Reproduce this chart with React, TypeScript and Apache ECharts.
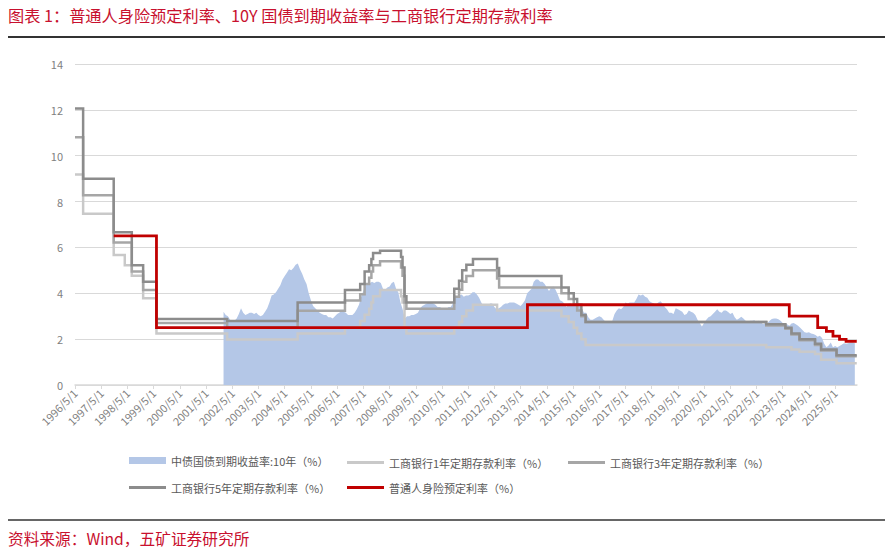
import React, { useEffect, useRef } from "react";
import * as echarts from "echarts";

const FONT = '"Noto Sans CJK SC", "Noto Sans", sans-serif';

const TITLE = "图表 1：普通人身险预定利率、10Y 国债到期收益率与工商银行定期存款利率";
const SOURCE = "资料来源：Wind，五矿证券研究所";

const SERIES_NAMES = [
  "中债国债到期收益率:10年（%）",
  "工商银行1年定期存款利率（%）",
  "工商银行3年定期存款利率（%）",
  "工商银行5年定期存款利率（%）",
  "普通人身险预定利率（%）",
];

const TICK_LABELS = [
  "1996/5/1", "1997/5/1", "1998/5/1", "1999/5/1", "2000/5/1", "2001/5/1",
  "2002/5/1", "2003/5/1", "2004/5/1", "2005/5/1", "2006/5/1", "2007/5/1",
  "2008/5/1", "2009/5/1", "2010/5/1", "2011/5/1", "2012/5/1", "2013/5/1",
  "2014/5/1", "2015/5/1", "2016/5/1", "2017/5/1", "2018/5/1", "2019/5/1",
  "2020/5/1", "2021/5/1", "2022/5/1", "2023/5/1", "2024/5/1", "2025/5/1",
];
const Y_TICKS = [0, 2, 4, 6, 8, 10, 12, 14];
const AXIS_END = "2026/3/1";

// 10Y CGB yield, monthly, starting 2002/1
const YIELD_START = "2002/1/1";
const YIELD_10Y = [
  3.20, 3.05, 3.00, 2.85, 2.75, 2.80, 2.90, 3.10, 3.35, 3.15, 3.05, 3.10, // 2002
  3.15, 3.15, 3.10, 3.15, 3.05, 3.00, 3.05, 3.20, 3.35, 3.60, 3.90, 3.95, // 2003
  4.05, 4.20, 4.35, 4.60, 4.75, 4.90, 5.05, 5.00, 5.10, 5.25, 5.30, 5.05, // 2004
  4.85, 4.60, 4.40, 4.00, 3.70, 3.45, 3.35, 3.25, 3.15, 3.10, 3.05, 3.05, // 2005
  2.95, 2.95, 2.90, 3.00, 3.10, 3.15, 3.25, 3.20, 3.15, 3.05, 3.05, 3.05, // 2006
  3.15, 3.30, 3.50, 3.85, 4.10, 4.35, 4.40, 4.45, 4.50, 4.45, 4.50, 4.50, // 2007
  4.45, 4.20, 4.15, 4.25, 4.30, 4.45, 4.50, 4.20, 4.05, 3.60, 3.30, 2.90, // 2008
  3.00, 3.00, 3.05, 3.05, 3.10, 3.15, 3.35, 3.45, 3.50, 3.55, 3.60, 3.60, // 2009
  3.55, 3.50, 3.40, 3.40, 3.35, 3.30, 3.30, 3.40, 3.40, 3.55, 3.90, 3.85, // 2010
  3.90, 3.95, 3.85, 3.90, 3.90, 3.95, 4.05, 4.05, 3.95, 3.80, 3.60, 3.45, // 2011
  3.45, 3.45, 3.55, 3.55, 3.40, 3.30, 3.35, 3.40, 3.50, 3.55, 3.55, 3.60, // 2012
  3.60, 3.60, 3.55, 3.50, 3.45, 3.55, 3.70, 4.00, 4.10, 4.20, 4.50, 4.60, // 2013
  4.60, 4.50, 4.50, 4.40, 4.25, 4.10, 4.25, 4.30, 4.15, 3.95, 3.70, 3.65, // 2014
  3.55, 3.40, 3.55, 3.55, 3.45, 3.55, 3.55, 3.45, 3.35, 3.15, 3.15, 2.95, // 2015
  2.85, 2.85, 2.90, 2.95, 3.00, 2.95, 2.85, 2.75, 2.70, 2.70, 2.80, 3.10, // 2016
  3.25, 3.35, 3.30, 3.40, 3.60, 3.55, 3.60, 3.60, 3.60, 3.75, 3.95, 3.90, // 2017
  3.95, 3.85, 3.80, 3.65, 3.60, 3.55, 3.50, 3.60, 3.65, 3.55, 3.40, 3.30, // 2018
  3.15, 3.15, 3.10, 3.35, 3.30, 3.25, 3.20, 3.05, 3.10, 3.25, 3.20, 3.15, // 2019
  3.05, 2.85, 2.70, 2.55, 2.70, 2.85, 2.95, 3.00, 3.10, 3.20, 3.30, 3.20, // 2020
  3.15, 3.25, 3.25, 3.18, 3.10, 3.15, 2.95, 2.85, 2.90, 2.98, 2.90, 2.80, // 2021
  2.75, 2.80, 2.80, 2.82, 2.75, 2.80, 2.75, 2.65, 2.70, 2.70, 2.80, 2.88, // 2022
  2.90, 2.90, 2.87, 2.80, 2.70, 2.65, 2.65, 2.58, 2.68, 2.70, 2.65, 2.58, // 2023
  2.50, 2.40, 2.30, 2.28, 2.30, 2.25, 2.22, 2.18, 2.10, 2.15, 2.05, 1.80, // 2024
  1.65, 1.72, 1.85, 1.65, 1.70, 1.65, 1.70, 1.76, 1.82, 1.80, 1.82, 1.85, // 2025
  1.85, 1.82, // 2026
];

// ICBC deposit rate change dates and rates
const DEPOSIT_DATES = [
  "1996/5/1", "1996/8/23", "1997/10/23", "1998/3/25", "1998/7/1", "1998/12/7",
  "1999/6/10", "2002/2/21", "2004/10/29", "2006/8/19", "2007/3/18", "2007/5/19",
  "2007/7/21", "2007/8/22", "2007/9/15", "2007/12/21", "2008/10/9", "2008/10/30",
  "2008/11/27", "2008/12/23", "2010/10/20", "2010/12/26", "2011/2/9", "2011/4/6",
  "2011/7/7", "2012/6/8", "2012/7/6", "2014/11/22", "2015/3/1", "2015/5/11",
  "2015/6/28", "2015/8/26", "2015/10/24", "2022/9/15", "2023/6/8", "2023/9/1",
  "2023/12/22", "2024/7/25", "2024/10/18", "2025/5/20", "2026/2/28",
];
const DEPOSIT_1Y = [
  9.18, 7.47, 5.67, 5.22, 4.77, 3.78, 2.25, 1.98, 2.25, 2.52, 2.79, 3.06,
  3.33, 3.60, 3.87, 4.14, 3.87, 3.60, 2.52, 2.25, 2.50, 2.75, 3.00, 3.25,
  3.50, 3.25, 3.25, 3.00, 2.75, 2.50, 2.25, 2.00, 1.75, 1.65, 1.65, 1.55,
  1.45, 1.35, 1.10, 0.95, 0.95,
];
const DEPOSIT_3Y = [
  10.80, 8.28, 6.21, 6.21, 4.95, 4.14, 2.70, 2.52, 3.24, 3.69, 3.96, 4.41,
  4.68, 4.95, 5.22, 5.40, 5.13, 4.77, 3.60, 3.33, 3.85, 4.15, 4.50, 4.75,
  5.00, 4.65, 4.25, 4.00, 3.75, 3.50, 3.25, 3.00, 2.75, 2.60, 2.45, 2.20,
  1.95, 1.75, 1.50, 1.25, 1.25,
];
const DEPOSIT_5Y = [
  12.06, 9.00, 6.66, 6.66, 5.22, 4.50, 2.88, 2.79, 3.60, 4.14, 4.41, 4.95,
  5.22, 5.49, 5.76, 5.85, 5.58, 5.13, 3.87, 3.60, 4.20, 4.55, 5.00, 5.25,
  5.50, 5.10, 4.75, 4.25, 4.00, 3.75, 3.50, 3.05, 2.75, 2.65, 2.50, 2.25,
  2.00, 1.80, 1.55, 1.30, 1.30,
];

// Life insurance pricing rate
const INSURANCE_DATES = [
  "1997/10/23", "1999/6/10", "2013/8/5", "2023/8/1", "2024/9/1",
  "2025/1/1", "2025/4/1", "2025/7/1", "2025/10/1", "2026/2/28",
];
const INSURANCE_RATE = [6.5, 2.5, 3.5, 3.0, 2.5, 2.34, 2.13, 1.99, 1.90, 1.90];

// months since 1996/5/1
function toMonths(s: string): number {
  const [y, m, d] = s.split("/").map(Number);
  return (y - 1996) * 12 + (m - 5) + (d - 1) / 30.44;
}

const zip = (dates: string[], vals: number[]) =>
  dates.map((d, i) => [toMonths(d), vals[i]]);

export default function App() {
  const ref = useRef<HTMLDivElement>(null);

  useEffect(() => {
    if (!ref.current) return;
    const chart = echarts.init(ref.current, null, { renderer: "svg" });

    const yieldStart = toMonths(YIELD_START);
    const yieldData = YIELD_10Y.map((v, i) => [yieldStart + i, v]);
    const tickPos = TICK_LABELS.map(toMonths);
    const labelMap: Record<string, string> = {};
    tickPos.forEach((p, i) => (labelMap[String(Math.round(p))] = TICK_LABELS[i]));

    const COLORS = ["#b4c7e7", "#c9c9c9", "#a6a6a6", "#8c8c8c", "#c00000"];

    const stepLine = (name: string, data: number[][], color: string, width: number, z: number) => ({
      name,
      type: "line",
      step: "end",
      data,
      symbol: "none",
      showSymbol: false,
      z,
      lineStyle: { color, width, cap: "butt", join: "miter" },
      itemStyle: { color },
      emphasis: { disabled: true },
    });

    const LEGEND_POS = [
      [129, 455], [347, 455], [568, 455], [129, 480], [347, 480],
    ];

    chart.setOption({
      animation: false,
      textStyle: { fontFamily: FONT },
      grid: { left: 75, right: 34, top: 64, bottom: 165, containLabel: false },
      legend: SERIES_NAMES.map((n, i) => ({
        left: LEGEND_POS[i][0],
        top: LEGEND_POS[i][1] + (i === 0 ? 0 : 2),
        itemWidth: 37,
        itemHeight: i === 0 ? 7 : 3,
        selectedMode: false,
        padding: 0,
        textStyle: { fontSize: 11, color: "#595959", fontFamily: FONT },
        data: [{ name: n, icon: "rect", itemStyle: { color: COLORS[i] } }],
      })),
      xAxis: {
        type: "value",
        min: 0,
        max: toMonths(AXIS_END),
        axisLine: { show: true, lineStyle: { color: "#d9d9d9", width: 1.5 } },
        axisTick: {
          show: true,
          customValues: tickPos,
          length: 4,
          lineStyle: { color: "#d9d9d9" },
        },
        axisLabel: {
          customValues: tickPos,
          formatter: (v: number) => labelMap[String(Math.round(v))] ?? "",
          rotate: 45,
          fontSize: 11,
          color: "#7f7f7f",
          margin: 6,
          fontFamily: FONT,
        },
        splitLine: { show: false },
      },
      yAxis: {
        type: "value",
        min: Y_TICKS[0],
        max: Y_TICKS[Y_TICKS.length - 1],
        interval: 2,
        axisLine: { show: false },
        axisTick: { show: false },
        axisLabel: { fontSize: 11, color: "#7f7f7f", margin: 12, fontFamily: FONT },
        splitLine: { lineStyle: { color: "#d9d9d9", width: 1 } },
      },
      series: [
        {
          name: SERIES_NAMES[0],
          type: "line",
          data: yieldData,
          symbol: "none",
          showSymbol: false,
          z: 1,
          lineStyle: { width: 0, color: COLORS[0] },
          itemStyle: { color: COLORS[0] },
          areaStyle: { color: COLORS[0], opacity: 1 },
          emphasis: { disabled: true },
        },
        stepLine(SERIES_NAMES[1], zip(DEPOSIT_DATES, DEPOSIT_1Y), COLORS[1], 2.5, 2),
        stepLine(SERIES_NAMES[2], zip(DEPOSIT_DATES, DEPOSIT_3Y), COLORS[2], 2.5, 3),
        stepLine(SERIES_NAMES[3], zip(DEPOSIT_DATES, DEPOSIT_5Y), COLORS[3], 2.5, 4),
        stepLine(SERIES_NAMES[4], zip(INSURANCE_DATES, INSURANCE_RATE), COLORS[4], 2.8, 5),
      ],
      graphic: [
        {
          type: "text",
          x: 8,
          y: 15,
          style: {
            text: TITLE,
            fontSize: 16.2,
            fill: "#c8102e",
            fontFamily: FONT,
            verticalAlign: "middle",
          },
        },
        {
          type: "line",
          shape: { x1: 8, y1: 37, x2: 885, y2: 37 },
          style: { stroke: "#333333", lineWidth: 2 },
        },
        {
          type: "line",
          shape: { x1: 8, y1: 520, x2: 885, y2: 520 },
          style: { stroke: "#333333", lineWidth: 1.5 },
        },
        {
          type: "text",
          x: 8,
          y: 538,
          style: {
            text: SOURCE,
            fontSize: 15.7,
            fill: "#c8102e",
            fontFamily: FONT,
            verticalAlign: "middle",
          },
        },
      ],
    });

    return () => chart.dispose();
  }, []);

  return (
    <div
      ref={ref}
      style={{ position: "fixed", left: 0, top: 0, width: 891, height: 550, background: "#ffffff" }}
    />
  );
}
